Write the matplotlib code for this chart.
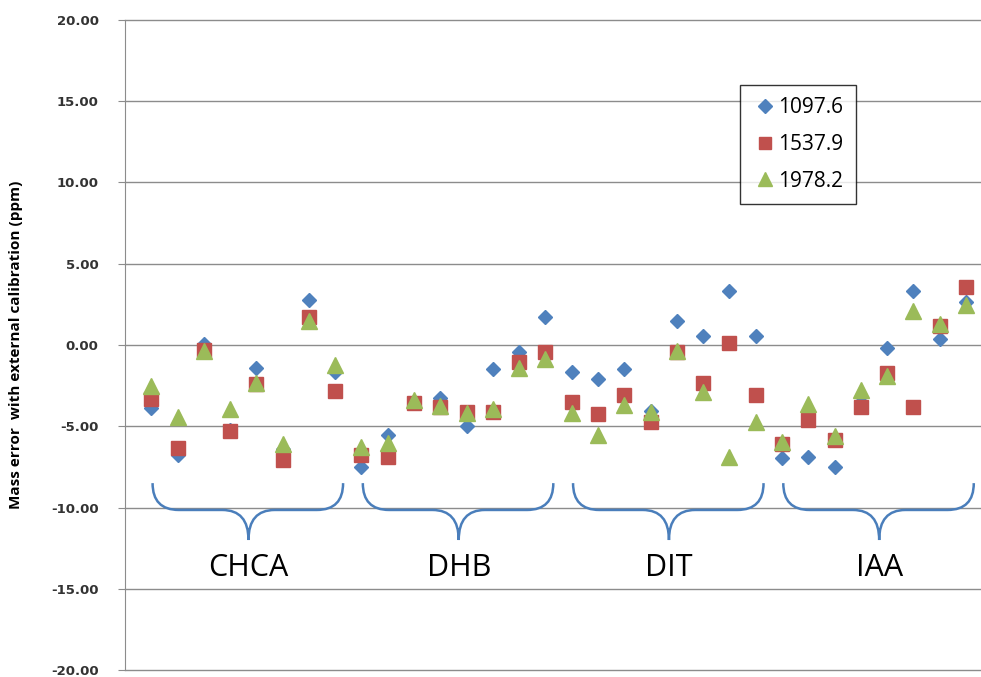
import matplotlib
matplotlib.use("Agg")
import matplotlib.pyplot as plt
import numpy as np
from matplotlib.path import Path
from matplotlib.patches import PathPatch

# sample index 1..32, 8 per matrix
x = np.arange(1, 33)

s1097 = [-3.88, -6.75, 0.05, -5.25, -1.4, -6.4, 2.77, -1.64,
         -7.5, -5.54, -3.5, -3.28, -4.96, -1.48, -0.41, 1.7,
         -1.64, -2.11, -1.48, -4.05, 1.5, 0.55, 3.32, 0.55,
         -6.97, -6.87, -7.53, -3.49, -0.2, 3.32, 0.35, 2.67]
s1537 = [-3.3, -6.35, -0.3, -5.3, -2.4, -7.1, 1.7, -2.83,
         -6.77, -6.87, -3.55, -3.8, -4.1, -4.14, -1.02, -0.41,
         -3.53, -4.25, -3.08, -4.72, -0.45, -2.32, 0.14, -3.08,
         -6.11, -4.62, -5.85, -3.83, -1.7, -3.83, 1.17, 3.59]
s1978 = [-2.55, -4.4, -0.35, -3.95, -2.35, -6.1, 1.5, -1.23,
         -6.26, -6.0, -3.38, -3.75, -4.16, -3.96, -1.44, -0.88,
         -4.2, -5.54, -3.69, -4.1, -0.35, -2.87, -6.91, -4.72,
         -5.95, -3.63, -5.58, -2.77, -1.91, 2.09, 1.29, 2.46]
labels = ["1097.6", "1537.9", "1978.2"]
groups = ["CHCA", "DHB", "DIT", "IAA"]
group_start = [1, 9, 17, 25]

fig = plt.figure(figsize=(9.81, 6.77), dpi=100)
ax = fig.add_axes([0.1274, 0.0103, 0.884, 0.9602])

ax.plot(x, s1097, "D", color="#4F81BD", markersize=7.5, label=labels[0], zorder=3)
ax.plot(x, s1537, "s", color="#C0504D", markersize=10, label=labels[1], zorder=4)
ax.plot(x, s1978, "^", color="#9BBB59", markersize=11, label=labels[2], zorder=5)

# curly braces under each group
def brace(x0, x1, xc, ytop, ymid, ytip):
    r = 1.0
    verts = [(x0, ytop), (x0, ymid), (x0 + r, ymid),
             (xc - r, ymid), (xc, ymid), (xc, ytip),
             (xc, ymid), (xc + r, ymid),
             (x1 - r, ymid), (x1, ymid), (x1, ytop)]
    codes = [Path.MOVETO, Path.CURVE3, Path.CURVE3,
             Path.LINETO, Path.CURVE3, Path.CURVE3,
             Path.CURVE3, Path.CURVE3,
             Path.LINETO, Path.CURVE3, Path.CURVE3]
    ax.add_patch(PathPatch(Path(verts, codes), fill=False, edgecolor="#4A7EBB",
                           linewidth=1.8, zorder=2))

for g, s in zip(groups, group_start):
    brace(s + 0.05, s + 7.3, s + 3.7, -8.5, -10.15, -12.0)
    ax.text(s + 3.7, -13.75, g, ha="center", va="center", fontsize=22,
            family="Open Sans", color="black")

ax.set_xlim(0, 33)
ax.set_ylim(-20, 20)
ax.set_yticks(np.arange(-20, 21, 5))
ax.set_yticklabels([f"{v:.2f}" for v in np.arange(-20, 21, 5)],
                   fontsize=9.5, fontweight="bold", family="DejaVu Sans", color="#333333")
ax.set_xticks([])
ax.grid(axis="y", color="#8C8C8C", linewidth=1)
for gl in ax.get_ygridlines():
    gl.set_clip_on(False)
ax.set_axisbelow(True)
for sp in ["top", "right", "bottom"]:
    ax.spines[sp].set_visible(False)
ax.spines["left"].set_color("#8C8C8C")
ax.tick_params(axis="y", length=5, color="#8C8C8C", pad=14)
ax.set_ylabel("Mass error  with external calibration (ppm)", fontsize=11,
              fontweight="bold", family="Open Sans", labelpad=20)

leg = ax.legend(loc="upper left", bbox_to_anchor=(0.709, 0.9), borderaxespad=0,
                frameon=True, fancybox=False, edgecolor="black", borderpad=0.6,
                handletextpad=0.05, labelspacing=0.75, handlelength=1.2,
                markerscale=0.9, prop={"family": "Open Sans", "size": 15})
leg.get_frame().set_linewidth(1.0)

fig.savefig("out.png", dpi=100)
